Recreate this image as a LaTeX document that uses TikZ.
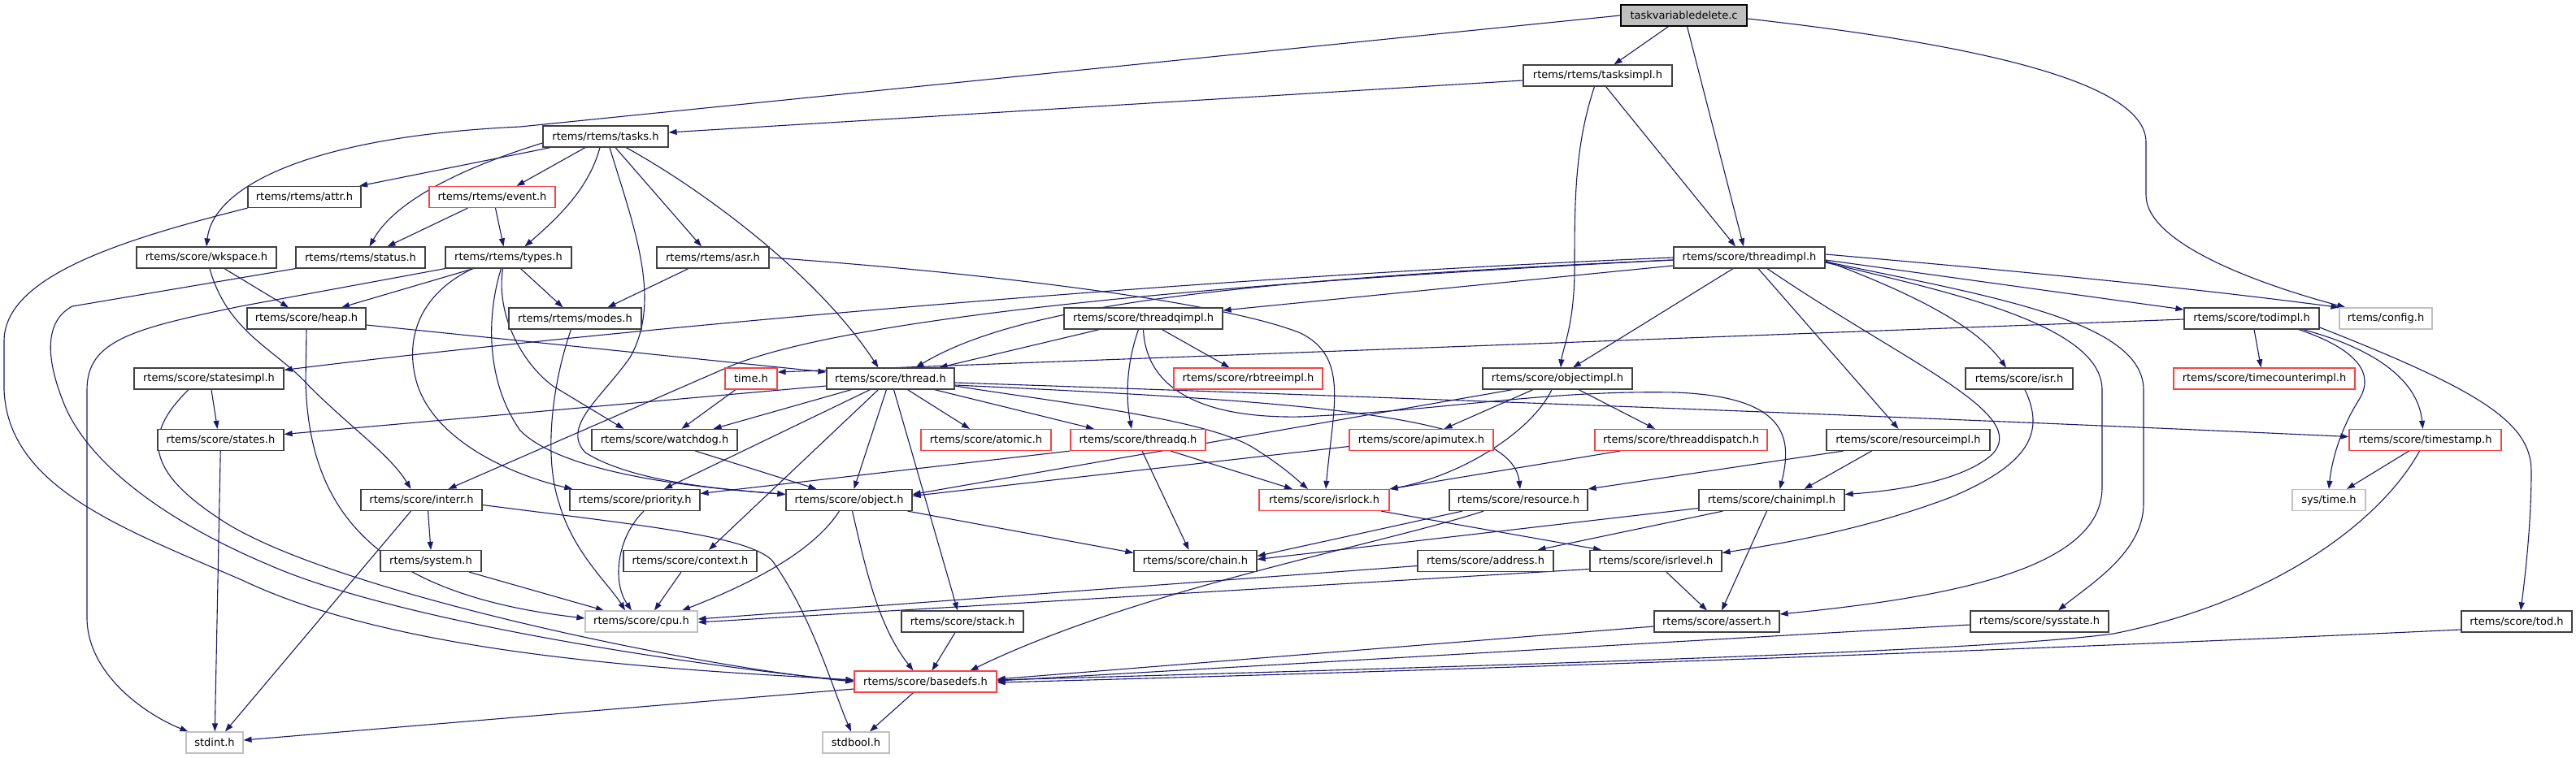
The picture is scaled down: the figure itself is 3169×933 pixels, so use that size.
\documentclass[tikz,border=0pt]{standalone}
\usepackage{fontspec}
\setmainfont{DejaVu Sans}
\usetikzlibrary{arrows.meta}
\definecolor{edgec}{HTML}{191970}
\definecolor{boxc}{HTML}{404040}
\definecolor{redc}{HTML}{FF4040}
\definecolor{grayc}{HTML}{C0C0C0}
\definecolor{rootfill}{HTML}{BFBFBF}
\pgfdeclarelayer{bg}
\pgfsetlayers{bg,main}
\newcommand\gnode[6]{\node[#1, minimum width=#5pt] (#2) at (#3,#4) {#6};}
\begin{document}
\begin{tikzpicture}[x=1pt,y=-1pt,
  box/.style={draw=boxc, line width=1.2pt, fill=white, minimum height=26pt, inner sep=0pt, font=\fontsize{13}{15}\selectfont},
  redbox/.style={box, draw=redc},
  graybox/.style={box, draw=grayc},
  rootbox/.style={box, draw=black, fill=rootfill},
  dep/.style={draw=edgec, line width=1.1pt, -{Triangle[length=10pt,width=7pt]}}]
\useasboundingbox (0,0) rectangle (3169,933);
% nodes
\gnode{rootbox}{tvd}{2071.5}{19}{155}{taskvariabledelete.c}
\gnode{box}{tasksimpl}{1965.5}{93}{183}{rtems/rtems/tasksimpl.h}
\gnode{box}{tasks}{745}{168}{154}{rtems/rtems/tasks.h}
\gnode{box}{attr}{374.5}{242.5}{139}{rtems/rtems/attr.h}
\gnode{redbox}{event}{605.5}{242.5}{155}{rtems/rtems/event.h}
\gnode{box}{wkspace}{254}{317}{172}{rtems/score/wkspace.h}
\gnode{box}{status}{443.5}{317}{159}{rtems/rtems/status.h}
\gnode{box}{types}{625.5}{317}{155}{rtems/rtems/types.h}
\gnode{box}{asr}{877}{317}{138}{rtems/rtems/asr.h}
\gnode{box}{threadimpl}{2152}{317}{186}{rtems/score/threadimpl.h}
\gnode{box}{heap}{377}{392}{146}{rtems/score/heap.h}
\gnode{box}{modes}{707.5}{392}{163}{rtems/rtems/modes.h}
\gnode{box}{threadqimpl}{1406.5}{392}{195}{rtems/score/threadqimpl.h}
\gnode{box}{todimpl}{2770}{392}{166}{rtems/score/todimpl.h}
\gnode{graybox}{config}{2935}{392}{114}{rtems/config.h}
\gnode{box}{statesimpl}{257}{466}{184}{rtems/score/statesimpl.h}
\gnode{redbox}{time}{924}{466}{64}{time.h}
\gnode{box}{thread}{1095.5}{466}{157}{rtems/score/thread.h}
\gnode{redbox}{rbtreeimpl}{1535.5}{466}{183}{rtems/score/rbtreeimpl.h}
\gnode{box}{objectimpl}{1916}{466}{184}{rtems/score/objectimpl.h}
\gnode{box}{isr}{2484}{466}{132}{rtems/score/isr.h}
\gnode{redbox}{timecounterimpl}{2785.5}{466}{223}{rtems/score/timecounterimpl.h}
\gnode{box}{states}{271.5}{541.5}{155}{rtems/score/states.h}
\gnode{box}{watchdog}{817.5}{541.5}{179}{rtems/score/watchdog.h}
\gnode{redbox}{atomic}{1213}{541.5}{160}{rtems/score/atomic.h}
\gnode{redbox}{threadq}{1400}{541.5}{166}{rtems/score/threadq.h}
\gnode{redbox}{apimutex}{1748.5}{541.5}{177}{rtems/score/apimutex.h}
\gnode{redbox}{threaddispatch}{2068}{541.5}{212}{rtems/score/threaddispatch.h}
\gnode{box}{resourceimpl}{2347.5}{541.5}{201}{rtems/score/resourceimpl.h}
\gnode{redbox}{timestamp}{2983.5}{541.5}{187}{rtems/score/timestamp.h}
\gnode{box}{interr}{518.5}{615.5}{149}{rtems/score/interr.h}
\gnode{box}{priority}{781}{615.5}{160}{rtems/score/priority.h}
\gnode{box}{object}{1044.5}{615.5}{155}{rtems/score/object.h}
\gnode{redbox}{isrlock}{1629}{615.5}{160}{rtems/score/isrlock.h}
\gnode{box}{resource}{1868}{615.5}{170}{rtems/score/resource.h}
\gnode{box}{chainimpl}{2179.5}{615.5}{179}{rtems/score/chainimpl.h}
\gnode{graybox}{systime}{2865}{615.5}{90}{sys/time.h}
\gnode{box}{system}{530}{690.5}{124}{rtems/system.h}
\gnode{box}{context}{849}{690.5}{164}{rtems/score/context.h}
\gnode{box}{chain}{1470.5}{690.5}{151}{rtems/score/chain.h}
\gnode{box}{address}{1827.5}{690.5}{167}{rtems/score/address.h}
\gnode{box}{isrlevel}{2037}{690.5}{162}{rtems/score/isrlevel.h}
\gnode{graybox}{cpu}{789}{765}{138}{rtems/score/cpu.h}
\gnode{box}{stack}{1184}{765}{150}{rtems/score/stack.h}
\gnode{box}{assert}{2112}{765}{154}{rtems/score/assert.h}
\gnode{box}{sysstate}{2509}{765}{170}{rtems/score/sysstate.h}
\gnode{box}{tod}{3096}{765}{136}{rtems/score/tod.h}
\gnode{redbox}{basedefs}{1138.5}{839}{175}{rtems/score/basedefs.h}
\gnode{graybox}{stdint}{264}{914}{70}{stdint.h}
\gnode{graybox}{stdbool}{1053}{914}{82}{stdbool.h}
% edges
\begin{pgfonlayer}{bg}
% root
\draw[dep] ([xshift=-19pt]tvd.south) -- ([xshift=20pt]tasksimpl.north);
\draw[dep] ([xshift=4pt]tvd.south) -- ([xshift=-7pt]threadimpl.north);
\draw[dep] ([yshift=-4pt]tvd.east) .. controls (2480,60) and (2640,110) .. (2640,175) -- (2640,240) .. controls (2640,300) and (2780,350) .. ([xshift=8pt]config.north west);
\draw[dep] (tvd.west) -- (640,156) .. controls (380,168) and (262,230) .. (wkspace.north);
% tasksimpl
\draw[dep] ([yshift=-6pt]tasksimpl.west) -- ([yshift=5pt]tasks.east);
\draw[dep] ([xshift=-4pt]tasksimpl.south) .. controls (1937,180) and (1937,250) .. (1937,330) .. controls (1937,400) and (1922,430) .. ([xshift=4pt]objectimpl.north);
\draw[dep] ([xshift=10pt]tasksimpl.south) -- ([xshift=-17pt]threadimpl.north);
% tasks
\draw[dep] (tasks) -- (attr);
\draw[dep] ([xshift=-25pt]tasks.south) -- ([xshift=30pt]event.north);
\draw[dep] ([xshift=-7pt]tasks.south) .. controls (725,230) and (690,265) .. ([xshift=20pt]types.north);
\draw[dep] ([xshift=12pt]tasks.south) -- ([xshift=-14pt]asr.north);
\draw[dep] ([yshift=-8pt]tasks.west) .. controls (590,200) and (490,240) .. ([xshift=11pt]status.north);
\draw[dep] ([xshift=25pt]tasks.south) .. controls (850,225) and (1000,330) .. ([xshift=-15pt]thread.north);
\draw[dep] ([xshift=5pt]tasks.south) .. controls (780,280) and (815,370) .. (775,440) .. controls (740,490) and (690,525) .. (720,557) .. controls (780,595) and (900,603) .. ([yshift=7pt]object.west);
% attr, status, event
\draw[dep] (attr.south west) .. controls (150,295) and (5,340) .. (5,420) -- (5,480) .. controls (10,600) and (150,650) .. (300,715) .. controls (500,810) and (850,825) .. ([yshift=2pt]basedefs.west);
\draw[dep] (status.south west) -- (89,377) .. controls (55,395) and (55,440) .. (80,500) .. controls (110,570) and (200,640) .. (330,695) .. controls (500,770) and (900,825) .. ([yshift=1pt]basedefs.west);
\draw[dep] ([xshift=-30pt]event.south) -- ([xshift=33pt]status.north);
\draw[dep] ([xshift=4pt]event.south) -- ([xshift=-6pt]types.north);
% wkspace
\draw[dep] ([xshift=22pt]wkspace.south) -- ([xshift=-22pt]heap.north);
\draw[dep] ([xshift=4pt]wkspace.south) .. controls (280,410) and (340,430) .. (380,475) .. controls (430,525) and (480,560) .. ([xshift=-13pt]interr.north);
% types
\draw[dep] (types.south west) -- (296,377) .. controls (160,405) and (107,420) .. (107,480) -- (107,760) .. controls (107,830) and (180,880) .. ([xshift=3pt]stdint.north west);
\draw[dep] ([xshift=-43pt]types.south) -- ([xshift=43pt]heap.north);
\draw[dep] ([xshift=-44pt]types.south) .. controls (520,360) and (500,410) .. (510,460) .. controls (525,540) and (630,585) .. ([xshift=4pt]priority.north west);
\draw[dep] ([xshift=-9pt]types.south) .. controls (598,390) and (598,470) .. (640,530) .. controls (700,590) and (900,603) .. ([yshift=7pt]object.west);
\draw[dep] ([xshift=-7pt]types.south) .. controls (610,385) and (640,445) .. (680,475) -- ([xshift=-50pt]watchdog.north);
\draw[dep] ([xshift=15pt]types.south) -- ([xshift=-15pt]modes.north);
% asr
\draw[dep] ([xshift=-30pt]asr.south) -- ([xshift=40pt]modes.north);
\draw[dep] (asr.east) .. controls (1200,335) and (1500,370) .. (1600,410) .. controls (1660,440) and (1640,500) .. ([xshift=2pt]isrlock.north);
% heap, modes
\draw[dep] (heap.south) -- (376,470) .. controls (380,620) and (450,730) .. ([yshift=4pt]cpu.west);
\draw[dep] ([yshift=-8pt]heap.east) -- ([yshift=8pt]thread.west);
\draw[dep] ([xshift=-5pt]modes.south) .. controls (680,470) and (668,560) .. (688,620) .. controls (705,680) and (750,720) .. ([xshift=-20pt]cpu.north);
% statesimpl, states
\draw[dep] ([xshift=-25pt]statesimpl.south) .. controls (170,540) and (185,585) .. (280,645) .. controls (420,730) and (850,820) .. (basedefs.west);
\draw[dep] ([xshift=3pt]statesimpl.south) -- ([xshift=-4pt]states.north);
\draw[dep] (states) -- (stdint);
% interr, system
\draw[dep] ([xshift=-13pt]interr.south) -- ([xshift=13pt]stdint.north);
\draw[dep] ([xshift=8pt]interr.south) -- (system.north);
\draw[dep] ([yshift=-6pt]interr.east) .. controls (800,648) and (920,660) .. (950,690) .. controls (1000,760) and (1025,850) .. ([xshift=-6pt]stdbool.north);
\draw[dep] ([xshift=47pt]system.south) -- ([xshift=-46pt]cpu.north);
% priority, context, object
\draw[dep] ([xshift=11pt]priority.south) .. controls (760,660) and (752,715) .. ([xshift=-12pt]cpu.north);
\draw[dep] ([xshift=-11pt]context.south) -- ([xshift=16pt]cpu.north);
\draw[dep] ([xshift=-12pt]object.south) .. controls (1000,680) and (920,720) .. ([xshift=50pt]cpu.north);
\draw[dep] ([xshift=72pt]object.south) -- ([yshift=10pt]chain.west);
\draw[dep] ([xshift=4pt]object.south) .. controls (1065,700) and (1080,770) .. ([xshift=-15pt]basedefs.north);
% thread
\draw[dep] ([yshift=-9pt]thread.west) -- ([yshift=7pt]states.east);
\draw[dep] ([xshift=-48pt]thread.south) -- ([xshift=60pt]watchdog.north);
\draw[dep] ([xshift=-25pt]thread.south) -- ([xshift=36pt]priority.north);
\draw[dep] ([xshift=-15pt]thread.south) -- ([xshift=23pt]context.north);
\draw[dep] ([xshift=-5pt]thread.south) -- ([xshift=6pt]object.north);
\draw[dep] ([xshift=4pt]thread.south) -- ([xshift=-6pt]stack.north);
\draw[dep] ([xshift=21pt]thread.south) -- ([xshift=-20pt]atomic.north);
\draw[dep] ([xshift=54pt]thread.south) -- ([xshift=-54pt]threadq.north);
\draw[dep] ([yshift=-9pt]thread.east) .. controls (1300,495) and (1480,515) .. (1540,550) .. controls (1580,575) and (1595,590) .. ([xshift=-20pt]isrlock.north);
\draw[dep] ([yshift=-8pt]thread.east) .. controls (1600,494) and (1860,510) .. ([xshift=2pt]resource.north);
\draw[dep] ([yshift=-5pt]thread.east) .. controls (1800,492) and (2400,515) .. ([yshift=4pt]timestamp.west);
\draw[dep] ([xshift=-19pt]time.south) -- ([xshift=21pt]watchdog.north);
\draw[dep] ([xshift=38pt]watchdog.south) -- ([xshift=-40pt]object.north);
% threadqimpl
\draw[dep] ([xshift=-54pt]threadqimpl.south) -- ([xshift=60pt]thread.north);
\draw[dep] ([xshift=-6pt]threadqimpl.south) .. controls (1385,450) and (1385,490) .. ([xshift=-8pt]threadq.north);
\draw[dep] ([xshift=23pt]threadqimpl.south) -- ([xshift=-23pt]rbtreeimpl.north);
\draw[dep] (threadqimpl.south) .. controls (1410,480) and (1480,515) .. (1600,513) .. controls (1780,505) and (1900,480) .. (2060,483) .. controls (2200,488) and (2205,540) .. ([xshift=10pt]chainimpl.north);
% objectimpl, apimutex, threaddispatch
\draw[dep] ([xshift=-55pt]objectimpl.south) -- ([yshift=7pt]object.east);
\draw[dep] ([yshift=-8pt]apimutex.west) -- ([yshift=5pt]object.east);
\draw[dep] ([xshift=-30pt]objectimpl.south) -- ([xshift=28pt]apimutex.north);
\draw[dep] ([xshift=-7pt]objectimpl.south) .. controls (1885,530) and (1800,585) .. (isrlock.north east);
\draw[dep] ([xshift=26pt]objectimpl.south) -- ([xshift=-32pt]threaddispatch.north);
\draw[dep] ([xshift=-75pt]threaddispatch.south) -- (isrlock.north east);
% threadq
\draw[dep] (threadq.south west) -- ([yshift=8pt]priority.east);
\draw[dep] ([xshift=5pt]threadq.south) -- ([xshift=-8pt]chain.north);
\draw[dep] ([xshift=40pt]threadq.south) -- ([xshift=-39pt]isrlock.north);
% stack, basedefs
\draw[dep] ([xshift=-9pt]stack.south) -- ([xshift=8pt]basedefs.north);
\draw[dep] ([xshift=-15pt]basedefs.south) -- ([xshift=17pt]stdbool.north);
\draw[dep] ([yshift=-9pt]basedefs.west) -- ([yshift=3pt]stdint.east);
% resourceimpl, resource, chainimpl
\draw[dep] ([xshift=-80pt]resourceimpl.south) -- (resource.north east);
\draw[dep] ([xshift=-45pt]resourceimpl.south) -- ([xshift=40pt]chainimpl.north);
\draw[dep] ([xshift=-69pt]resource.south) -- ([yshift=6pt]chain.east);
\draw[dep] ([xshift=-43pt]resource.south) .. controls (1700,670) and (1400,725) .. ([xshift=55pt]basedefs.north);
\draw[dep] ([yshift=-10pt]chainimpl.west) -- ([yshift=2pt]chain.east);
\draw[dep] ([xshift=-60pt]chainimpl.south) -- ([xshift=64pt]address.north);
\draw[dep] ([xshift=-6pt]chainimpl.south) -- ([xshift=6pt]assert.north);
% isrlock, address, isrlevel
\draw[dep] ([xshift=70pt]isrlock.south) -- ([xshift=-67pt]isrlevel.north);
\draw[dep] ([yshift=-6pt]address.west) -- ([yshift=3pt]cpu.east);
\draw[dep] ([yshift=-10pt]isrlevel.west) -- ([yshift=-1pt]cpu.east);
\draw[dep] ([xshift=13pt]isrlevel.south) -- ([xshift=-12pt]assert.north);
% to basedefs from right
\draw[dep] ([yshift=-6pt]assert.west) -- ([yshift=3pt]basedefs.east);
\draw[dep] ([yshift=-4pt]sysstate.west) -- ([yshift=1pt]basedefs.east);
\draw[dep] ([yshift=-10pt]tod.west) .. controls (2500,800) and (1800,825) .. ([yshift=-1pt]basedefs.east);
\draw[dep] ([xshift=-7pt]timestamp.south) .. controls (2930,640) and (2800,740) .. (2600,780) .. controls (2450,800) and (2000,815) .. ([yshift=2pt]basedefs.east);
\draw[dep] ([xshift=-20pt]timestamp.south) -- ([xshift=22pt]systime.north);
% todimpl
\draw[dep] ([xshift=3pt]todimpl.south) -- ([xshift=-4pt]timecounterimpl.north);
\draw[dep] ([xshift=58pt]todimpl.south) .. controls (2900,430) and (2922,460) .. (2902,492) .. controls (2878,530) and (2868,570) .. (systime.north);
\draw[dep] ([xshift=63pt]todimpl.south) .. controls (2925,430) and (2975,470) .. ([xshift=-3pt]timestamp.north);
\draw[dep] ([yshift=-11pt]todimpl.east) .. controls (3050,480) and (3114,520) .. (3114,580) .. controls (3114,650) and (3105,720) .. ([xshift=5pt]tod.north);
\draw[dep] ([yshift=-1pt]todimpl.west) -- ([yshift=8pt]time.east);
% isr
\draw[dep] ([xshift=7pt]isr.south) .. controls (2515,530) and (2500,570) .. (2400,612) .. controls (2300,650) and (2200,668) .. ([yshift=10pt]isrlevel.east);
% threadimpl
\draw[dep] (threadimpl.west) .. controls (1500,340) and (800,400) .. ([yshift=-3pt]statesimpl.north east);
\draw[dep] ([yshift=-3pt]threadimpl.west) .. controls (1500,348) and (1050,390) .. (900,450) -- ([xshift=33pt]interr.north);
\draw[dep] ([yshift=-3pt]threadimpl.west) .. controls (1500,345) and (1250,378) .. ([xshift=31pt]thread.north);
\draw[dep] ([yshift=-10pt]threadimpl.west) -- ([yshift=10pt]threadqimpl.east);
\draw[dep] ([xshift=-20pt]threadimpl.south) -- ([xshift=19pt]objectimpl.north);
\draw[dep] ([xshift=11pt]threadimpl.south) -- ([xshift=-12pt]resourceimpl.north);
\draw[dep] ([xshift=22pt]threadimpl.south) .. controls (2350,450) and (2500,510) .. (2450,560) .. controls (2410,595) and (2320,605) .. ([yshift=7pt]chainimpl.east);
\draw[dep] ([yshift=-4pt]threadimpl.east) .. controls (2350,360) and (2430,400) .. ([xshift=-16pt]isr.north);
\draw[dep] ([yshift=-5pt]threadimpl.east) .. controls (2450,365) and (2637,395) .. (2637,480) -- (2637,620) .. controls (2637,680) and (2570,720) .. ([xshift=23pt]sysstate.north);
\draw[dep] ([yshift=-6pt]threadimpl.east) .. controls (2400,360) and (2586,400) .. (2586,480) -- (2586,600) .. controls (2586,700) and (2400,735) .. ([yshift=9pt]assert.east);
\draw[dep] ([yshift=-3pt]threadimpl.east) -- ([yshift=11pt]todimpl.west);
\draw[dep] ([yshift=4pt]threadimpl.east) .. controls (2500,335) and (2700,355) .. (config.north west);
\end{pgfonlayer}
\end{tikzpicture}
\end{document}
